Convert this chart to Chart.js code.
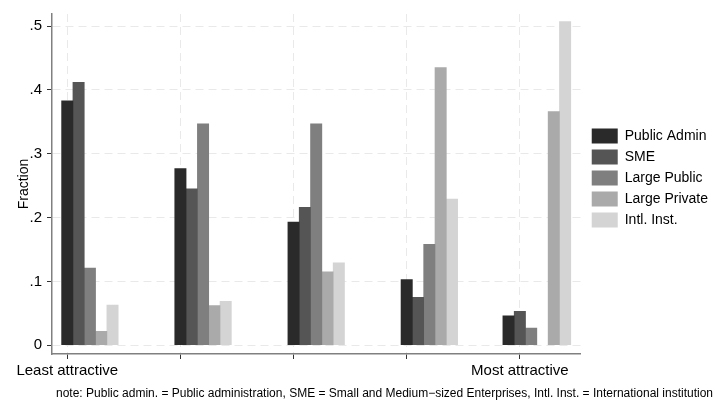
<!DOCTYPE html>
<html>
<head>
<meta charset="utf-8">
<script src="https://cdn.jsdelivr.net/npm/chart.js@4/dist/chart.umd.min.js"></script>
<style>
  html, body { margin: 0; padding: 0; background: #fff; }
  #wrap { width: 713px; height: 405px; }
</style>
</head>
<body>
<div id="wrap"><canvas id="c" width="713" height="405"></canvas></div>
<script>
// ---- data ----
const seriesNames = ["Public Admin", "SME", "Large Public", "Large Private", "Intl. Inst."];
const categoryTicks = [1, 2, 3, 4, 5];
const categoryLabels = ["Least attractive", "", "", "", "Most attractive"];

// bar positions on the x scale (data units, as in the source graph)
const xPublicAdmin  = [1.0, 2.0, 3.0, 4.0, 4.9];
const xSME          = [1.1, 2.1, 3.1, 4.1, 5.0];
const xLargePublic  = [1.2, 2.2, 3.2, 4.2, 5.1];
const xLargePrivate = [1.3, 2.3, 3.3, 4.3, 5.3];
const xIntlInst     = [1.4, 2.4, 3.4, 4.4, 5.4];

// fractions
const yPublicAdmin  = [0.383, 0.277, 0.193, 0.103, 0.046];
const ySME          = [0.412, 0.245, 0.216, 0.075, 0.053];
const yLargePublic  = [0.121, 0.347, 0.347, 0.158, 0.027];
const yLargePrivate = [0.022, 0.062, 0.115, 0.435, 0.366];
const yIntlInst     = [0.063, 0.069, 0.129, 0.229, 0.507];

const yTickValues = [0, 0.1, 0.2, 0.3, 0.4, 0.5];
const noteText = "note: Public admin. = Public administration, SME = Small and Medium\u2212sized Enterprises, Intl. Inst. = International institution";

// ---- styles ----
const colors = ["#2a2a2a", "#555555", "#7f7f7f", "#aaaaaa", "#d4d4d4"];
const FONT = "'Liberation Sans', Arial, Helvetica, sans-serif";

const xs = [xPublicAdmin, xSME, xLargePublic, xLargePrivate, xIntlInst];
const ys = [yPublicAdmin, ySME, yLargePublic, yLargePrivate, yIntlInst];

const datasets = seriesNames.map((name, i) => ({
  label: name,
  data: xs[i].map((x, j) => ({ x: x, y: ys[i][j] })),
  backgroundColor: colors[i],
  borderWidth: 0,
  grouped: false,
  barPercentage: 1.0,
  categoryPercentage: 1.0
}));

// nudge the legend block (layout only)
const legendNudge = {
  id: "legendNudge",
  afterLayout(chart) {
    const l = chart.legend;
    if (!l) return;
    l.left += 5; l.right += 5;
    l.top -= 6; l.bottom -= 6;
  }
};

Chart.defaults.font.family = FONT;
Chart.defaults.color = "#000";

new Chart(document.getElementById("c"), {
  type: "bar",
  data: { datasets },
  plugins: [legendNudge],
  options: {
    responsive: false,
    devicePixelRatio: 1,
    animation: false,
    layout: { padding: { top: 3, left: 0, right: 0, bottom: 0 } },
    plugins: {
      legend: {
        position: "right",
        fullSize: false,
        labels: {
          boxWidth: 26,
          boxHeight: 15,
          padding: 6,
          font: { size: 14 },
          color: "#000"
        }
      },
      title: {
        display: true,
        text: noteText,
        position: "bottom",
        align: "end",
        font: { size: 12, weight: "normal" },
        color: "#000",
        padding: { top: 0, bottom: 4 }
      },
      tooltip: { enabled: false }
    },
    scales: {
      x: {
        type: "linear",
        min: 0.865,
        max: 5.538,
        offset: false,
        afterBuildTicks: s => { s.ticks = categoryTicks.map(v => ({ value: v })); },
        afterFit: s => { s.height = 32.6; },
        ticks: {
          autoSkip: false,
          maxRotation: 0,
          minRotation: 0,
          padding: 3,
          font: { size: 15 },
          color: "#000",
          callback: (v) => {
            const k = categoryTicks.indexOf(v);
            return k >= 0 ? categoryLabels[k] : "";
          }
        },
        grid: {
          offset: false,
          color: "#e9e9e9",
          lineWidth: 1,
          drawTicks: true,
          tickLength: 5,
          tickColor: "#333",
          tickWidth: 1,
          tickBorderDash: []
        },
        border: { display: true, color: "#808080", width: 1.5, dash: [8, 5] }
      },
      y: {
        type: "linear",
        min: -0.0137,
        max: 0.519,
        afterBuildTicks: s => { s.ticks = yTickValues.map(v => ({ value: v })); },
        afterFit: s => { s.width = 52; },
        ticks: {
          padding: 5,
          font: { size: 15 },
          color: "#000",
          callback: (v) => v === 0 ? "0" : String(Math.round(v * 10) / 10).replace(/^0/, "")
        },
        title: {
          display: true,
          text: "Fraction",
          font: { size: 14 },
          color: "#000",
          padding: { top: 16, bottom: 0 }
        },
        grid: {
          color: "#e9e9e9",
          lineWidth: 1,
          drawTicks: true,
          tickLength: 5,
          tickColor: "#333",
          tickWidth: 1,
          tickBorderDash: []
        },
        border: { display: true, color: "#808080", width: 1.5, dash: [8, 5] }
      }
    }
  }
});
</script>
</body>
</html>
